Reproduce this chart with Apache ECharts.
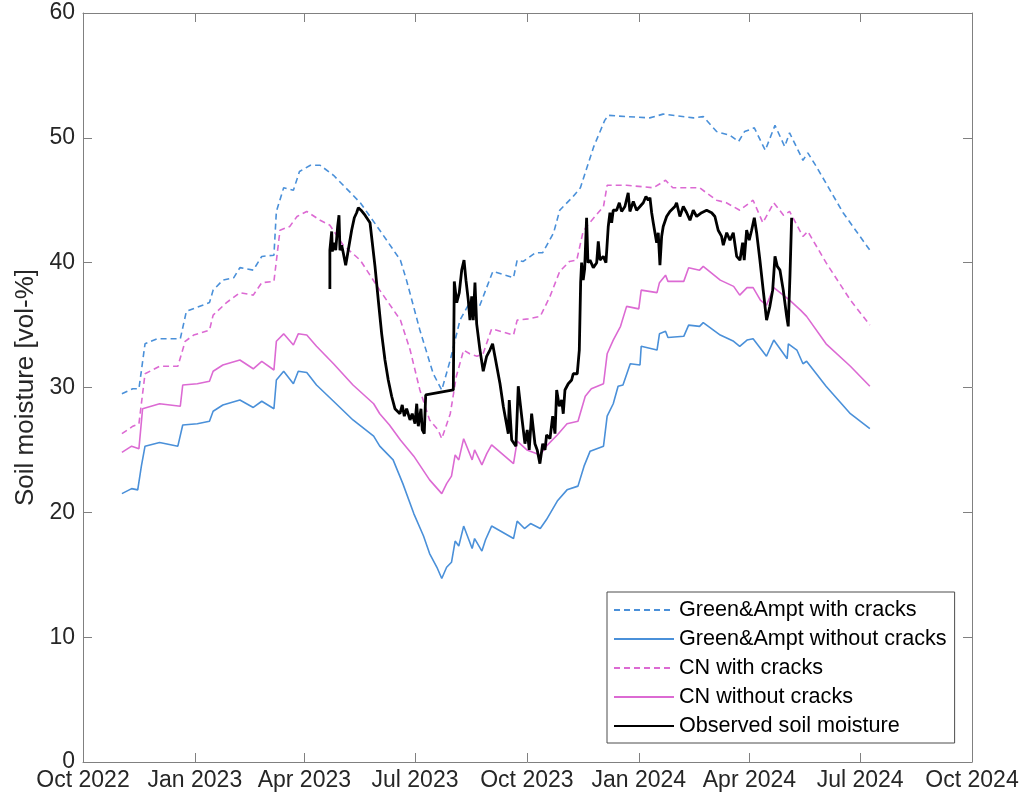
<!DOCTYPE html>
<html>
<head>
<meta charset="utf-8">
<script src="https://cdn.jsdelivr.net/npm/echarts@6/dist/echarts.min.js"></script>
<style>
html,body{margin:0;padding:0;background:#fff;}
#chart{width:1024px;height:801px;}
</style>
</head>
<body>
<div id="chart"></div>
<script>
// x values are days since 2022-10-01
const tickDays = [0, 92, 182, 273, 365, 457, 548, 639, 731];
const tickLabels = ['Oct 2022', 'Jan 2023', 'Apr 2023', 'Jul 2023', 'Oct 2023', 'Jan 2024', 'Apr 2024', 'Jul 2024', 'Oct 2024'];
const seriesNames = ['Green&Ampt with cracks', 'Green&Ampt without cracks', 'CN with cracks', 'CN without cracks', 'Observed soil moisture'];

const gaCracks = [[32,29.5],[41,29.9],[46,29.9],[51,33.5],[61,33.9],[80,33.9],[85,36.1],[104,36.8],[107,37.8],[115,38.6],[124,38.8],[129,39.6],[140,39.4],[147,40.5],[157,40.6],[159,44.1],[165,46.0],[173,45.8],[178,47.3],[187,47.8],[195,47.8],[206,47.0],[228,44.8],[244,42.6],[261,40.2],[266,38.6],[277,34.6],[288,31.1],[295,29.8],[302,32.2],[310,35.4],[318,36.8],[326,36.5],[337,39.3],[354,38.8],[357,40.2],[362,40.1],[372,40.8],[378,40.8],[387,42.4],[392,44.2],[403,45.3],[409,46.0],[420,49.3],[429,51.4],[432,51.8],[447,51.7],[466,51.6],[477,51.9],[502,51.6],[510,51.7],[521,50.5],[532,50.2],[539,49.7],[544,50.5],[552,50.8],[561,49.0],[569,51.0],[577,49.3],[581,50.4],[592,48.2],[596,48.8],[603,47.7],[625,44.0],[647,41.0]];

const gaNoCracks = [[32,21.5],[40,21.9],[45,21.8],[48,23.7],[51,25.3],[63,25.6],[78,25.3],[82,27.0],[94,27.1],[104,27.3],[107,28.1],[115,28.6],[129,29.0],[140,28.4],[147,28.9],[157,28.3],[159,30.6],[165,31.3],[173,30.3],[177,31.3],[184,31.2],[192,30.2],[206,28.9],[222,27.4],[239,26.1],[244,25.3],[255,24.2],[263,22.3],[272,19.9],[280,18.1],[285,16.7],[291,15.6],[295,14.7],[299,15.6],[303,16.0],[306,17.7],[309,17.3],[313,18.9],[320,17.1],[322,17.9],[328,16.9],[331,17.8],[336,18.9],[354,17.9],[357,19.3],[363,18.7],[368,19.1],[376,18.7],[381,19.4],[390,20.9],[398,21.8],[407,22.1],[412,23.7],[417,24.9],[428,25.3],[431,27.7],[436,28.7],[440,30.1],[444,30.2],[450,31.9],[458,31.8],[459,33.3],[472,33.0],[474,34.3],[479,34.5],[481,34.0],[494,34.1],[498,35.0],[507,34.9],[510,35.2],[524,34.2],[535,33.7],[540,33.3],[546,33.8],[551,33.9],[562,32.5],[568,33.8],[579,32.3],[580,33.5],[587,33.0],[592,31.9],[595,32.1],[611,30.1],[631,27.9],[647,26.7]];

const cnCracks = [[32,26.3],[41,26.9],[46,27.1],[51,31.1],[63,31.7],[78,31.7],[84,33.7],[91,34.2],[104,34.6],[107,35.8],[118,36.8],[129,37.6],[140,37.4],[147,38.4],[157,38.5],[162,42.6],[170,42.9],[176,43.7],[184,44.1],[195,43.4],[203,43.0],[214,41.4],[228,40.2],[244,37.8],[261,35.4],[269,33.0],[277,29.8],[285,27.4],[292,26.6],[295,25.9],[302,27.9],[307,30.9],[313,33.0],[318,32.7],[324,32.5],[329,32.7],[336,34.7],[354,34.2],[357,35.4],[366,35.5],[376,35.7],[384,37.3],[392,39.3],[400,40.1],[406,40.2],[411,42.4],[414,42.9],[428,44.5],[431,46.2],[447,46.2],[469,46.0],[479,46.6],[485,46.0],[507,46.0],[521,45.0],[529,44.8],[540,44.2],[551,45.0],[559,43.2],[568,44.8],[576,43.8],[581,44.1],[592,42.1],[596,42.5],[611,40.0],[631,37.0],[647,35.0]];

const cnNoCracks = [[32,24.8],[40,25.3],[46,25.1],[49,28.3],[63,28.7],[80,28.5],[82,30.2],[94,30.3],[104,30.5],[107,31.3],[115,31.8],[129,32.2],[140,31.5],[147,32.1],[157,31.4],[159,33.7],[165,34.3],[173,33.4],[177,34.3],[184,34.2],[192,33.3],[206,31.9],[222,30.2],[239,28.7],[244,27.9],[252,27.0],[261,25.8],[272,24.5],[285,22.6],[295,21.5],[299,22.3],[303,22.9],[306,24.6],[309,24.2],[313,25.9],[320,24.2],[322,25.0],[328,23.8],[332,24.7],[336,25.4],[354,23.9],[357,25.7],[365,25.0],[376,24.6],[381,25.3],[390,26.2],[398,27.1],[407,27.3],[413,29.3],[418,29.9],[428,30.3],[431,32.7],[436,33.8],[442,34.9],[447,36.5],[457,36.3],[459,37.8],[472,37.6],[474,38.4],[479,39.0],[481,38.5],[494,38.5],[498,39.6],[507,39.4],[510,39.7],[524,38.6],[535,38.1],[540,37.4],[546,38.0],[551,38.0],[557,37.0],[562,36.6],[568,38.0],[581,37.0],[590,36.2],[595,35.7],[611,33.5],[631,31.7],[647,30.1]];

const observed = [[203,37.9],[203,41.0],[204.5,42.5],[205,40.9],[206.6,41.6],[207.8,41.0],[209.4,42.9],[210.5,43.8],[211.3,41.0],[212.7,41.4],[214,40.8],[216,39.8],[218.1,41.0],[219.5,41.0],[220.9,42.6],[223.1,43.6],[225,44.0],[226.4,44.4],[228.6,44.2],[231.9,43.8],[236,43.2],[240.1,39.7],[242.8,37.0],[245.6,34.3],[248.3,32.2],[251,30.6],[253.8,29.3],[256.5,28.3],[260.6,27.9],[262.5,28.6],[264.2,27.7],[266.1,28.3],[268.9,27.4],[270.7,27.9],[273,27.1],[274.4,28.7],[275.7,26.9],[277.9,28.3],[279,26.6],[280.6,26.3],[281.8,29.4],[304.5,29.8],[305.3,38.5],[307.3,36.8],[309.4,37.6],[311.4,39.4],[313.3,40.2],[314.9,38.6],[316.8,37.0],[318.2,35.4],[319.6,37.3],[320.9,35.4],[322.3,38.4],[323.7,35.1],[326.4,33.0],[329.1,31.3],[331.9,32.5],[334.6,33.0],[336.8,33.5],[338.7,32.5],[342.9,30.3],[345.6,28.5],[349.7,26.3],[350.5,29.0],[352.5,25.8],[356,25.3],[357.9,30.1],[360.7,27.7],[363.4,25.5],[365.3,26.6],[366.9,25.0],[368.9,27.9],[371.6,25.5],[373.5,25.0],[375.7,23.9],[378,25.5],[379.9,25.0],[381.2,26.2],[384,25.9],[386.2,27.7],[388.1,26.3],[389.5,29.8],[391.6,28.5],[393.6,29.0],[394.9,27.9],[396.3,29.8],[399,30.3],[401.8,30.6],[403.1,31.1],[406.4,31.1],[408.1,33.0],[409.2,38.4],[410,40.0],[411.3,38.6],[412.5,39.5],[414.1,43.6],[415.2,40.0],[416.9,40.2],[419.6,39.6],[422.4,40.0],[423.7,41.7],[425.1,40.2],[427.8,40.5],[430,40.0],[431.9,42.9],[433.3,44.0],[434.7,43.2],[436,44.2],[438.8,44.2],[441,44.8],[442.9,44.1],[445.6,44.5],[448.3,45.6],[449.7,44.1],[452.5,44.9],[455.2,44.2],[458,44.5],[460.7,44.8],[462.9,45.3],[464.8,45.0],[466.2,45.2],[467.6,44.0],[468.9,43.2],[470.3,42.4],[471.7,41.6],[473,42.4],[474.4,39.8],[475.8,42.1],[477.1,42.9],[479.9,43.7],[482.6,44.1],[486.7,44.5],[488.1,44.8],[490.8,43.7],[493.6,44.5],[496.4,44.0],[499.1,43.4],[501.8,44.2],[504.6,43.7],[508.7,44.0],[512.8,44.2],[516.9,44.0],[519.6,43.7],[522.3,42.6],[525.1,42.1],[526.5,41.4],[529.3,42.4],[532,41.8],[534.7,42.4],[537.5,40.5],[540.2,40.2],[542.4,41.6],[543.7,40.2],[545.7,42.6],[547.8,41.8],[549.8,42.6],[552,43.6],[553.9,42.4],[556.6,40.2],[559.3,37.8],[562.1,35.4],[564.8,36.5],[567.1,37.8],[569,40.5],[570.9,39.7],[573.1,39.4],[575.8,37.8],[578.6,35.7],[579.9,34.9],[581.3,38.9],[582.7,43.6]];

const blue = '#4a90d9';
const pink = '#dc6ad3';

const chart = echarts.init(document.getElementById('chart'), null, {renderer: 'canvas'});
const fontFam = 'Liberation Sans, Arial, sans-serif';
const tickFont = {fontFamily: fontFam, fontSize: 23, color: '#262626'};
const axisCol = '#808080';

function fmt(v) {
  const i = tickDays.indexOf(Math.round(v));
  return i >= 0 ? tickLabels[i] : '';
}

const option = {
  animation: false,
  backgroundColor: '#ffffff',
  grid: {left: 83, right: 52, top: 13, bottom: 39, containLabel: false},
  xAxis: [
    {
      type: 'value', min: 0, max: 731, position: 'bottom',
      axisLine: {show: true, onZero: false, lineStyle: {color: axisCol, width: 1}},
      axisTick: {show: true, inside: true, length: 9, customValues: tickDays, lineStyle: {color: axisCol}},
      axisLabel: Object.assign({show: true, margin: 7, customValues: tickDays, formatter: fmt}, tickFont),
      splitLine: {show: false}
    },
    {
      type: 'value', min: 0, max: 731, position: 'top',
      axisLine: {show: true, onZero: false, lineStyle: {color: axisCol, width: 1}},
      axisTick: {show: true, inside: true, length: 9, customValues: tickDays, lineStyle: {color: axisCol}},
      axisLabel: {show: false},
      splitLine: {show: false}
    }
  ],
  yAxis: [
    {
      type: 'value', min: 0, max: 60, interval: 10, position: 'left',
      name: 'Soil moisture [vol-%]', nameLocation: 'middle', nameGap: 40,
      nameTextStyle: {fontFamily: fontFam, fontSize: 26, color: '#262626'},
      axisLine: {show: true, onZero: false, lineStyle: {color: axisCol, width: 1}},
      axisTick: {show: true, inside: true, length: 9, lineStyle: {color: axisCol}},
      axisLabel: Object.assign({show: true, margin: 8}, tickFont),
      splitLine: {show: false}
    },
    {
      type: 'value', min: 0, max: 60, interval: 10, position: 'right',
      axisLine: {show: true, onZero: false, lineStyle: {color: axisCol, width: 1}},
      axisTick: {show: true, inside: true, length: 9, lineStyle: {color: axisCol}},
      axisLabel: {show: false},
      splitLine: {show: false}
    }
  ],
  legend: {
    show: true,
    orient: 'vertical',
    left: 607, top: 592,
    padding: [7, 8, 6, 6],
    itemGap: 7,
    itemWidth: 60, itemHeight: 14,
    backgroundColor: '#ffffff',
    borderColor: '#4d4d4d', borderWidth: 1, borderRadius: 0,
    itemStyle: {opacity: 0},
    textStyle: {fontFamily: fontFam, fontSize: 21.6, color: '#000000', lineHeight: 22},
    data: seriesNames
  },
  series: [
    {name: seriesNames[0], type: 'line', data: gaCracks, showSymbol: false, symbol: 'none',
     lineStyle: {color: blue, width: 1.6, type: [6, 4]}, itemStyle: {color: blue}},
    {name: seriesNames[1], type: 'line', data: gaNoCracks, showSymbol: false, symbol: 'none',
     lineStyle: {color: blue, width: 1.6}, itemStyle: {color: blue}},
    {name: seriesNames[2], type: 'line', data: cnCracks, showSymbol: false, symbol: 'none',
     lineStyle: {color: pink, width: 1.6, type: [6, 4]}, itemStyle: {color: pink}},
    {name: seriesNames[3], type: 'line', data: cnNoCracks, showSymbol: false, symbol: 'none',
     lineStyle: {color: pink, width: 1.6}, itemStyle: {color: pink}},
    {name: seriesNames[4], type: 'line', data: observed, showSymbol: false, symbol: 'none',
     lineStyle: {color: '#000000', width: 2.8}, itemStyle: {color: '#000000'}}
  ]
};
chart.setOption(option);
</script>
</body>
</html>
